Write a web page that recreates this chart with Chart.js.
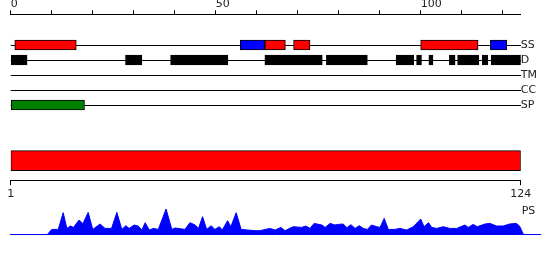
<!DOCTYPE html>
<html>
<head>
<meta charset="utf-8">
<script src="https://cdn.jsdelivr.net/npm/chart.js@4.4.1/dist/chart.umd.min.js"></script>
<style>
    html, body { margin: 0; padding: 0; background: #fff; }
    #wrap { position: relative; width: 550px; height: 260px; overflow: hidden; }
    #wrap canvas { position: absolute; left: 0; }
</style>
</head>
<body>
<div id="wrap">
    <canvas id="tracks" width="550" height="120" style="top:0"></canvas>
    <canvas id="domain" width="550" height="70" style="top:135px"></canvas>
    <canvas id="profile" width="550" height="40" style="top:200px"></canvas>
</div>
<script>
// Pistas y datos
const trackNames = ['SS', 'D', 'TM', 'CC', 'SP'];
const axisMax = 124.4;
const topTicks = [0, 10, 20, 30, 40, 50, 60, 70, 80, 90, 100, 110, 120];
const topLabels = [0, 50, 100];

const helixSS = [[1, 16], [62, 67], [69, 73], [100, 114]];
const strandSS = [[56, 62], [117, 121]];
const disorder = [[0, 4], [28, 32], [39, 53], [62, 76], [77, 87], [94, 98.3], [99, 100.2],
    [102, 103], [107, 108.4], [109, 114.2], [115, 116.4], [117.2, 124.4]];
const signalPep = [[0, 18]];

const domainSpan = [1, 124];
const bottomTicks = [1, 124];

const psPos = [8.9, 10.0, 11.6, 12.8, 13.7, 14.6, 15.3, 16.7, 17.6, 18.9,
    20.0, 21.8, 23.0, 24.6, 25.9, 27.1, 28.1, 28.9, 30.1, 31.1,
    32.0, 32.8, 33.8, 34.8, 36.0, 37.9, 39.3, 40.1, 42.5, 43.7,
    45.0, 45.8, 46.8, 47.8, 48.9, 49.8, 50.9, 51.6, 52.9, 53.7,
    55.0, 56.2, 59.6, 60.8, 63.2, 64.5, 65.9, 66.9, 68.9, 71.0,
    72.0, 73.0, 74.0, 75.9, 76.7, 77.9, 79.1, 79.9, 81.1, 82.0,
    83.0, 84.0, 85.0, 86.0, 87.0, 88.0, 89.3, 90.1, 91.1, 92.1,
    93.7, 94.9, 96.6, 98.2, 100.0, 100.8, 101.9, 102.7, 103.9, 105.5,
    107.1, 108.8, 110.8, 111.6, 112.8, 113.8, 115.7, 116.9, 118.5, 120.1,
    121.7, 123.3, 124.1, 125.1];
const psVal = [0, 5.3, 5.3, 22, 6.3, 8.7, 7.3, 14.7, 11, 22.3,
    5.3, 10.7, 6.3, 6.3, 22.3, 5.3, 9, 6.3, 9.7, 8.7,
    4.7, 12, 4.7, 6.3, 5.3, 25.7, 5.3, 6.7, 5.3, 12,
    9.7, 6.3, 18, 5.3, 9, 5.3, 8, 4.7, 14, 8,
    22, 5.3, 4, 4, 6.3, 4.7, 7.3, 4, 8, 7.3,
    8.7, 6.3, 11.3, 9.7, 7.3, 11.3, 9.7, 10.3, 10.7, 7,
    10, 6.3, 9, 6.3, 5.3, 9.7, 8, 7.3, 16.3, 5.3,
    5.3, 6.3, 4.7, 8, 15.7, 8, 12, 7.3, 6.3, 8,
    6.3, 6.3, 9.7, 7.3, 10.3, 8, 10.7, 11.3, 8.7, 8.7,
    10.7, 11.3, 8.7, 0];

const font = { family: 'DejaVu Sans', size: 11 };
const textColor = '#222';
const noPlugins = { legend: { display: false }, tooltip: { enabled: false } };

function segments(spans, track, color) {
    const y = trackNames.indexOf(track) + 1;
    return {
        data: spans.map(s => ({ x: s, y: y })),
        backgroundColor: color,
        borderColor: '#000',
        borderWidth: 1,
        borderSkipped: false,
        barThickness: 10,
        grouped: false
    };
}

// Pistas SS, D, TM, CC, SP con el eje superior
new Chart(document.getElementById('tracks'), {
    type: 'bar',
    data: {
        datasets: [
            segments(helixSS, 'SS', '#ff0000'),
            segments(strandSS, 'SS', '#0000ff'),
            segments(disorder, 'D', '#000000'),
            segments(signalPep, 'SP', '#008000')
        ]
    },
    options: {
        indexAxis: 'y',
        responsive: false,
        animation: false,
        layout: { padding: { left: 10.7, right: 0, top: 0, bottom: 7.5 } },
        plugins: noPlugins,
        scales: {
            x: {
                type: 'linear', position: 'top', min: 0, max: axisMax,
                afterBuildTicks: s => { s.ticks = topTicks.map(v => ({ value: v })); },
                afterFit: s => { s.height = 14.7; },
                ticks: {
                    align: 'start', padding: 0, autoSkip: false, maxRotation: 0,
                    font: font, color: textColor,
                    callback: v => topLabels.includes(v) ? String(v) : ''
                },
                grid: { drawOnChartArea: false, drawTicks: true, tickLength: 4.4, color: '#000' },
                border: { display: true, color: '#000', width: 1 }
            },
            y: {
                type: 'linear', position: 'right', reverse: true, min: -1.02, max: 5.5,
                offset: false,
                afterBuildTicks: s => { s.ticks = trackNames.map((n, i) => ({ value: i + 1 })); },
                afterFit: s => { s.width = 29.3; },
                ticks: { padding: 0, font: font, color: textColor, callback: v => trackNames[v - 1] || '' },
                grid: { offset: false, drawTicks: false, color: '#000', lineWidth: 1 },
                border: { display: false }
            }
        }
    }
});

// Barra del dominio con el eje 1..124
new Chart(document.getElementById('domain'), {
    type: 'bar',
    data: {
        labels: ['dominio'],
        datasets: [{
            data: [domainSpan],
            backgroundColor: '#ff0000',
            borderColor: '#000',
            borderWidth: 1,
            borderSkipped: false,
            barThickness: 20
        }]
    },
    options: {
        indexAxis: 'y',
        responsive: false,
        animation: false,
        layout: { padding: { left: 10.7, right: 29.3, top: 5.7, bottom: 0 } },
        plugins: noPlugins,
        scales: {
            x: {
                type: 'linear', position: 'bottom', min: 1, max: 124,
                afterBuildTicks: s => { s.ticks = bottomTicks.map(v => ({ value: v })); },
                afterFit: s => { s.height = 24.3; },
                ticks: { padding: 2, maxRotation: 0, autoSkip: false, font: font, color: textColor },
                grid: { drawOnChartArea: false, tickLength: 4.5, color: '#000' },
                border: { display: true, color: '#000', width: 1 }
            },
            y: { display: false }
        }
    }
});

// Perfil PS
const psLabel = {
    id: 'psLabel',
    afterDraw(chart) {
        const ctx = chart.ctx;
        ctx.save();
        ctx.font = '11px "DejaVu Sans"';
        ctx.fillStyle = textColor;
        ctx.textBaseline = 'middle';
        ctx.fillText('PS', chart.scales.x.getPixelForValue(axisMax) + 1, 11);
        ctx.restore();
    }
};

new Chart(document.getElementById('profile'), {
    type: 'line',
    data: {
        datasets: [{
            data: psPos.map((x, i) => ({ x: x, y: psVal[i] })),
            fill: 'origin',
            backgroundColor: '#0000ff',
            borderColor: '#0000ff',
            borderWidth: 1,
            pointRadius: 0,
            tension: 0
        }]
    },
    options: {
        responsive: false,
        animation: false,
        layout: { padding: { left: 10.7, right: 10, top: 0, bottom: 5.3 } },
        plugins: noPlugins,
        scales: {
            x: {
                type: 'linear', min: 0, max: 129.1,
                afterFit: s => { s.height = 0; },
                ticks: { display: false },
                grid: { display: false, drawTicks: false },
                border: { display: true, color: '#0000ff', width: 1 }
            },
            y: { display: false, min: 0, max: 34.7 }
        }
    },
    plugins: [psLabel]
});
</script>
</body>
</html>
